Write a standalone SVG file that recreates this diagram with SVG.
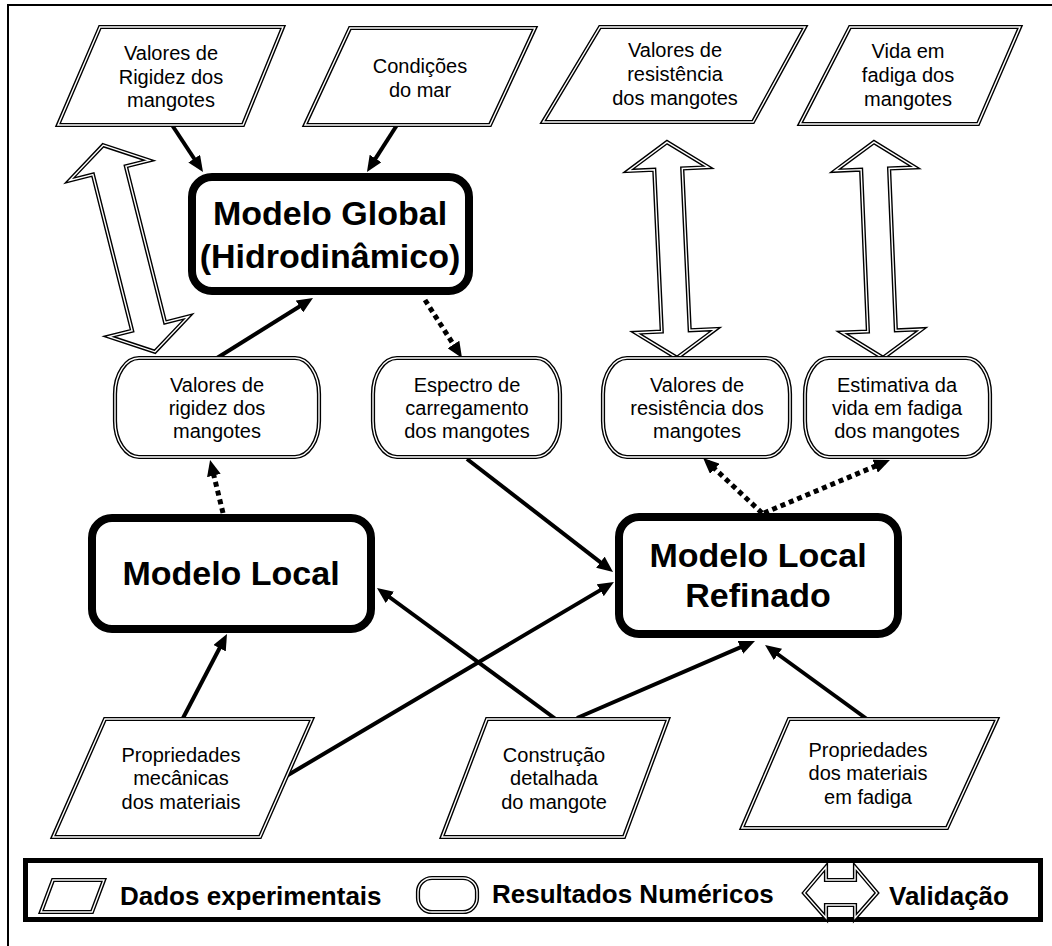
<svg xmlns="http://www.w3.org/2000/svg" width="1052" height="946" viewBox="0 0 1052 946">
<style>
.o{fill:#fff;stroke:#000;stroke-width:4.2;stroke-linejoin:miter}
.i{fill:none;stroke:#fff;stroke-width:1.4;stroke-linejoin:miter}
.hb{fill:#fff;stroke:#000;stroke-width:8}
.t{font-family:"Liberation Sans",Arial,sans-serif;font-size:20px;fill:#000;text-anchor:middle}
.b{font-family:"Liberation Sans",Arial,sans-serif;font-size:34px;font-weight:bold;fill:#000;text-anchor:middle}
.lg{font-family:"Liberation Sans",Arial,sans-serif;font-size:26px;font-weight:bold;fill:#000}
.c{fill:none;stroke:#000;stroke-width:4}
.d{fill:none;stroke:#000;stroke-width:5;stroke-dasharray:5 4}
</style>
<defs>
<marker id="ah" viewBox="0 0 16 14" refX="10" refY="7" markerWidth="16" markerHeight="14" markerUnits="userSpaceOnUse" orient="auto">
<path d="M0,0 L16,7 L0,14 z" fill="#000"/>
</marker>
<path id="pA" d="M0,-106.5 L41,-80.5 L17,-80.5 L17,80.5 L41,80.5 L0,106.5 L-41,80.5 L-17,80.5 L-17,-80.5 L-41,-80.5 Z"/>
<path id="pB" d="M0,-108 L40,-81 L14,-81 L14,81 L40,81 L0,108 L-40,81 L-14,81 L-14,-81 L-40,-81 Z"/>
</defs>
<rect width="1052" height="946" fill="#fff"/>
<path d="M8,946 V5 H1052" fill="none" stroke="#000" stroke-width="2"/>

<g id="connectors">
<line class="c" x1="172" y1="125" x2="199.7" y2="167" marker-end="url(#ah)"/>
<line class="c" x1="397" y1="125" x2="370.2" y2="166.9" marker-end="url(#ah)"/>
<line class="c" x1="217" y1="358" x2="307.9" y2="301.2" marker-end="url(#ah)"/>
<line class="d" x1="425" y1="300" x2="458.8" y2="352.9" marker-end="url(#ah)"/>
<line class="d" x1="223" y1="513" x2="211.5" y2="465.8" marker-end="url(#ah)"/>
<line class="c" x1="467" y1="459" x2="608.3" y2="568.3" marker-end="url(#ah)"/>
<line class="c" x1="283" y1="778" x2="608.8" y2="585.1" marker-end="url(#ah)"/>
<line class="c" x1="557" y1="720" x2="381.8" y2="591.5" marker-end="url(#ah)"/>
<line class="c" x1="577" y1="718" x2="749.5" y2="643.4" marker-end="url(#ah)"/>
<line class="c" x1="871" y1="722" x2="769.9" y2="648.5" marker-end="url(#ah)"/>
<line class="c" x1="182" y1="720" x2="224.2" y2="639.3" marker-end="url(#ah)"/>
<line class="d" x1="762" y1="513" x2="707.5" y2="462" marker-end="url(#ah)"/>
<line class="d" x1="764" y1="513" x2="884.4" y2="462.3" marker-end="url(#ah)"/>
</g>

<g id="validation-arrows">
<g transform="translate(129,248.5) rotate(-14.1)"><use href="#pA" class="o"/><use href="#pA" class="i"/></g>
<g transform="translate(672,250) rotate(-2.65)"><use href="#pB" class="o"/><use href="#pB" class="i"/></g>
<g transform="translate(878.5,250) rotate(-2.4)"><use href="#pB" class="o"/><use href="#pB" class="i"/></g>
</g>

<g id="d-rigidez">
<polygon class="o" points="100,27 283,27 243,125 58,125"/><polygon class="i" points="100,27 283,27 243,125 58,125"/>
<text class="t" x="171" y="60">Valores de</text><text class="t" x="171" y="84">Rigidez dos</text><text class="t" x="171" y="107">mangotes</text>
</g>
<g id="d-mar">
<polygon class="o" points="350,28 535,28 490,125 305,125"/><polygon class="i" points="350,28 535,28 490,125 305,125"/>
<text class="t" x="420" y="73">Condições</text><text class="t" x="420" y="97">do mar</text>
</g>
<g id="d-resistencia">
<polygon class="o" points="600,27 805,27 753,122 543,122"/><polygon class="i" points="600,27 805,27 753,122 543,122"/>
<text class="t" x="675" y="57">Valores de</text><text class="t" x="675" y="81">resistência</text><text class="t" x="675" y="105">dos mangotes</text>
</g>
<g id="d-vida">
<polygon class="o" points="850,27 1020,27 978,124 800,124"/><polygon class="i" points="850,27 1020,27 978,124 800,124"/>
<text class="t" x="908" y="58">Vida em</text><text class="t" x="908" y="82">fadiga dos</text><text class="t" x="908" y="106">mangotes</text>
</g>

<g id="m-global">
<rect class="hb" x="192" y="177" width="277" height="114" rx="20"/>
<text class="b" x="330" y="225">Modelo Global</text><text class="b" x="330" y="268">(Hidrodinâmico)</text>
</g>

<g id="r-rigidez">
<rect class="o" x="115" y="358" width="204" height="99" rx="24" ry="36"/><rect class="i" x="115" y="358" width="204" height="99" rx="24" ry="36"/>
<text class="t" x="217" y="392">Valores de</text><text class="t" x="217" y="415">rigidez dos</text><text class="t" x="217" y="438">mangotes</text>
</g>
<g id="r-espectro">
<rect class="o" x="373" y="358" width="187" height="99" rx="24" ry="36"/><rect class="i" x="373" y="358" width="187" height="99" rx="24" ry="36"/>
<text class="t" x="467" y="392">Espectro de</text><text class="t" x="467" y="415">carregamento</text><text class="t" x="467" y="438">dos mangotes</text>
</g>
<g id="r-resistencia">
<rect class="o" x="603" y="358" width="187" height="99" rx="24" ry="36"/><rect class="i" x="603" y="358" width="187" height="99" rx="24" ry="36"/>
<text class="t" x="697" y="392">Valores de</text><text class="t" x="697" y="415">resistência dos</text><text class="t" x="697" y="438">mangotes</text>
</g>
<g id="r-vida">
<rect class="o" x="805" y="358" width="185" height="99" rx="24" ry="36"/><rect class="i" x="805" y="358" width="185" height="99" rx="24" ry="36"/>
<text class="t" x="897" y="392">Estimativa da</text><text class="t" x="897" y="415">vida em fadiga</text><text class="t" x="897" y="438">dos mangotes</text>
</g>

<g id="m-local">
<rect class="hb" x="92" y="518" width="279" height="111" rx="20"/>
<text class="b" x="231" y="585">Modelo Local</text>
</g>
<g id="m-refinado">
<rect class="hb" x="619" y="517" width="279" height="117" rx="20"/>
<text class="b" x="758" y="567">Modelo Local</text><text class="b" x="758" y="607">Refinado</text>
</g>

<g id="d-mecanicas">
<polygon class="o" points="105,719 312,719 260,837 53,837"/><polygon class="i" points="105,719 312,719 260,837 53,837"/>
<text class="t" x="181" y="762">Propriedades</text><text class="t" x="181" y="785">mecânicas</text><text class="t" x="181" y="809">dos materiais</text>
</g>
<g id="d-construcao">
<polygon class="o" points="487,719 668,719 624,837 442,837"/><polygon class="i" points="487,719 668,719 624,837 442,837"/>
<text class="t" x="554" y="762">Construção</text><text class="t" x="554" y="785">detalhada</text><text class="t" x="554" y="809">do mangote</text>
</g>
<g id="d-fadiga">
<polygon class="o" points="789,719 997,719 947,828 742,828"/><polygon class="i" points="789,719 997,719 947,828 742,828"/>
<text class="t" x="868" y="757">Propriedades</text><text class="t" x="868" y="780">dos materiais</text><text class="t" x="868" y="804">em fadiga</text>
</g>

<g id="legend">
<rect x="25.5" y="860.5" width="1015" height="59" fill="#fff" stroke="#000" stroke-width="5"/>
<polygon class="o" points="53,880 104,880 92,912 41,912"/><polygon class="i" points="53,880 104,880 92,912 41,912"/>
<text class="lg" x="120" y="905">Dados experimentais</text>
<rect class="o" x="418" y="878" width="59" height="34" rx="14"/><rect class="i" x="418" y="878" width="59" height="34" rx="14"/>
<text class="lg" x="492" y="903">Resultados Numéricos</text>
<path class="o" d="M804,893 L826,867 L826,880 L855,880 L855,867 L877,893 L855,918 L855,905 L826,905 L826,918 Z"/>
<path class="i" d="M804,893 L826,867 L826,880 L855,880 L855,867 L877,893 L855,918 L855,905 L826,905 L826,918 Z"/>
<text class="lg" x="889" y="905">Validação</text>
</g>
</svg>
